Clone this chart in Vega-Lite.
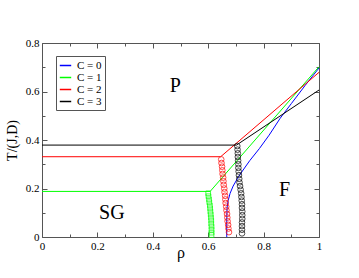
{
  "$schema": "https://vega.github.io/schema/vega-lite/v6.json",
  "width": 277,
  "height": 194,
  "autosize": {"type": "none"},
  "padding": {"left": 42, "top": 43, "right": 40, "bottom": 41},
  "background": "white",
  "config": {
    "view": {"stroke": null},
    "font": "Liberation Serif",
    "legend": {"labelFont": "Liberation Serif", "labelFontSize": 11, "labelColor": "black"}
  },
  "datasets": {
    "lines": [
      {"C": "C = 0", "i": 0, "rho": 0.667, "T": 0.0},
      {"C": "C = 0", "i": 1, "rho": 0.667, "T": 0.06},
      {"C": "C = 0", "i": 2, "rho": 0.668, "T": 0.12},
      {"C": "C = 0", "i": 3, "rho": 0.672, "T": 0.15},
      {"C": "C = 0", "i": 4, "rho": 0.679, "T": 0.18},
      {"C": "C = 0", "i": 5, "rho": 0.69, "T": 0.21},
      {"C": "C = 0", "i": 6, "rho": 0.705, "T": 0.24},
      {"C": "C = 0", "i": 7, "rho": 0.721, "T": 0.268},
      {"C": "C = 0", "i": 8, "rho": 0.75, "T": 0.315},
      {"C": "C = 0", "i": 9, "rho": 0.785, "T": 0.365},
      {"C": "C = 0", "i": 10, "rho": 0.82, "T": 0.42},
      {"C": "C = 0", "i": 11, "rho": 0.86, "T": 0.49},
      {"C": "C = 0", "i": 12, "rho": 0.9, "T": 0.55},
      {"C": "C = 0", "i": 13, "rho": 0.95, "T": 0.625},
      {"C": "C = 0", "i": 14, "rho": 1.0, "T": 0.697},
      {"C": "C = 1", "i": 0, "rho": 0.0, "T": 0.188},
      {"C": "C = 1", "i": 1, "rho": 0.607, "T": 0.188},
      {"C": "C = 1", "i": 2, "rho": 1.0, "T": 0.702},
      {"C": "C = 2", "i": 0, "rho": 0.0, "T": 0.331},
      {"C": "C = 2", "i": 1, "rho": 0.645, "T": 0.331},
      {"C": "C = 2", "i": 2, "rho": 1.0, "T": 0.679},
      {"C": "C = 3", "i": 0, "rho": 0.0, "T": 0.379},
      {"C": "C = 3", "i": 1, "rho": 0.702, "T": 0.379},
      {"C": "C = 3", "i": 2, "rho": 1.0, "T": 0.606}
    ],
    "squares": [
      {"C": "C = 1", "rho": 0.600, "T": 0.180},
      {"C": "C = 1", "rho": 0.601, "T": 0.168},
      {"C": "C = 1", "rho": 0.603, "T": 0.155},
      {"C": "C = 1", "rho": 0.604, "T": 0.143},
      {"C": "C = 1", "rho": 0.606, "T": 0.130},
      {"C": "C = 1", "rho": 0.607, "T": 0.118},
      {"C": "C = 1", "rho": 0.608, "T": 0.105},
      {"C": "C = 1", "rho": 0.609, "T": 0.093},
      {"C": "C = 1", "rho": 0.610, "T": 0.080},
      {"C": "C = 1", "rho": 0.611, "T": 0.068},
      {"C": "C = 1", "rho": 0.611, "T": 0.055},
      {"C": "C = 1", "rho": 0.612, "T": 0.043},
      {"C": "C = 1", "rho": 0.612, "T": 0.030},
      {"C": "C = 1", "rho": 0.612, "T": 0.018},
      {"C": "C = 1", "rho": 0.612, "T": 0.008}
    ],
    "circles": [
      {"C": "C = 2", "rho": 0.647, "T": 0.320},
      {"C": "C = 2", "rho": 0.648, "T": 0.305},
      {"C": "C = 2", "rho": 0.650, "T": 0.290},
      {"C": "C = 2", "rho": 0.651, "T": 0.275},
      {"C": "C = 2", "rho": 0.652, "T": 0.260},
      {"C": "C = 2", "rho": 0.654, "T": 0.245},
      {"C": "C = 2", "rho": 0.655, "T": 0.230},
      {"C": "C = 2", "rho": 0.656, "T": 0.215},
      {"C": "C = 2", "rho": 0.658, "T": 0.200},
      {"C": "C = 2", "rho": 0.659, "T": 0.185},
      {"C": "C = 2", "rho": 0.661, "T": 0.170},
      {"C": "C = 2", "rho": 0.662, "T": 0.155},
      {"C": "C = 2", "rho": 0.663, "T": 0.140},
      {"C": "C = 2", "rho": 0.665, "T": 0.125},
      {"C": "C = 2", "rho": 0.666, "T": 0.110},
      {"C": "C = 2", "rho": 0.668, "T": 0.095},
      {"C": "C = 2", "rho": 0.669, "T": 0.080},
      {"C": "C = 2", "rho": 0.670, "T": 0.065},
      {"C": "C = 2", "rho": 0.672, "T": 0.050},
      {"C": "C = 2", "rho": 0.673, "T": 0.035},
      {"C": "C = 2", "rho": 0.675, "T": 0.020},
      {"C": "C = 3", "rho": 0.705, "T": 0.375},
      {"C": "C = 3", "rho": 0.706, "T": 0.360},
      {"C": "C = 3", "rho": 0.707, "T": 0.345},
      {"C": "C = 3", "rho": 0.707, "T": 0.330},
      {"C": "C = 3", "rho": 0.708, "T": 0.315},
      {"C": "C = 3", "rho": 0.709, "T": 0.300},
      {"C": "C = 3", "rho": 0.709, "T": 0.285},
      {"C": "C = 3", "rho": 0.710, "T": 0.270},
      {"C": "C = 3", "rho": 0.711, "T": 0.255},
      {"C": "C = 3", "rho": 0.712, "T": 0.240},
      {"C": "C = 3", "rho": 0.713, "T": 0.225},
      {"C": "C = 3", "rho": 0.715, "T": 0.210},
      {"C": "C = 3", "rho": 0.717, "T": 0.195},
      {"C": "C = 3", "rho": 0.719, "T": 0.180},
      {"C": "C = 3", "rho": 0.720, "T": 0.165},
      {"C": "C = 3", "rho": 0.721, "T": 0.150},
      {"C": "C = 3", "rho": 0.722, "T": 0.135},
      {"C": "C = 3", "rho": 0.722, "T": 0.120},
      {"C": "C = 3", "rho": 0.723, "T": 0.105},
      {"C": "C = 3", "rho": 0.723, "T": 0.090},
      {"C": "C = 3", "rho": 0.723, "T": 0.075},
      {"C": "C = 3", "rho": 0.722, "T": 0.060},
      {"C": "C = 3", "rho": 0.722, "T": 0.045},
      {"C": "C = 3", "rho": 0.722, "T": 0.030},
      {"C": "C = 3", "rho": 0.722, "T": 0.015}
    ],
    "labels": [
      {"label": "P", "rho": 0.481, "T": 0.624},
      {"label": "SG", "rho": 0.252, "T": 0.101},
      {"label": "F", "rho": 0.876, "T": 0.194}
    ]
  },
  "resolve": {"axis": {"x": "independent", "y": "independent"}},
  "layer": [
    {
      "data": {"name": "lines"},
      "mark": {"type": "line", "strokeWidth": 1, "interpolate": "linear"},
      "encoding": {
        "x": {
          "field": "rho", "type": "quantitative",
          "scale": {"domain": [0, 1], "nice": false, "zero": false},
          "axis": {
            "orient": "bottom",
            "values": [0, 0.1, 0.2, 0.3, 0.4, 0.5, 0.6, 0.7, 0.8, 0.9, 1],
            "labelExpr": "round(datum.value*10)%2==0 ? toString(round(datum.value*10)/10) : ''",
            "tickSize": {"condition": {"test": "round(datum.value*10)%2==0", "value": -5}, "value": -3},
            "labelPadding": 8,
            "labelFlush": false,
            "labelOverlap": false,
            "labelFont": "Liberation Serif",
            "labelFontSize": 11,
            "labelColor": "black",
            "title": "ρ",
            "titleFont": "Liberation Serif",
            "titleFontSize": 16,
            "titleFontWeight": "normal",
            "titleColor": "black",
            "titleY": 20,
            "titleBaseline": "alphabetic",
            "grid": false,
            "domainColor": "#555",
            "tickColor": "#555"
          }
        },
        "y": {
          "field": "T", "type": "quantitative",
          "scale": {"domain": [0, 0.8], "nice": false, "zero": false},
          "axis": {
            "orient": "left",
            "values": [0, 0.1, 0.2, 0.3, 0.4, 0.5, 0.6, 0.7, 0.8],
            "labelExpr": "round(datum.value*10)%2==0 ? toString(round(datum.value*10)/10) : ''",
            "tickSize": {"condition": {"test": "round(datum.value*10)%2==0", "value": -5}, "value": -3},
            "labelPadding": 8,
            "labelFlush": false,
            "labelOverlap": false,
            "labelFont": "Liberation Serif",
            "labelFontSize": 11,
            "labelColor": "black",
            "title": "T/(J,D)",
            "titleFont": "Liberation Serif",
            "titleFontSize": 14,
            "titleFontWeight": "normal",
            "titleColor": "black",
            "titleX": -30,
            "titleBaseline": "middle",
            "grid": false,
            "domainColor": "#555",
            "tickColor": "#555"
          }
        },
        "order": {"field": "i", "type": "quantitative"},
        "color": {
          "field": "C", "type": "nominal",
          "scale": {"domain": ["C = 0", "C = 1", "C = 2", "C = 3"], "range": ["#0000ff", "#00ff00", "#ff0000", "#000000"]},
          "legend": {
            "orient": "none", "legendX": 14, "legendY": 13,
            "title": null,
            "symbolSize": 130,
            "labelFont": "Liberation Serif",
            "labelOffset": 5,
            "strokeColor": "#555",
            "padding": 3,
            "rowPadding": 0
          }
        }
      }
    },
    {
      "data": {"name": "squares"},
      "mark": {"type": "point", "shape": "square", "filled": false, "size": 22, "strokeWidth": 1},
      "encoding": {
        "x": {
          "field": "rho", "type": "quantitative",
          "scale": {"domain": [0, 1], "nice": false, "zero": false},
          "axis": {
            "orient": "top",
            "values": [0, 0.1, 0.2, 0.3, 0.4, 0.5, 0.6, 0.7, 0.8, 0.9, 1],
            "labels": false,
            "tickSize": {"condition": {"test": "round(datum.value*10)%2==0", "value": -5}, "value": -3},
            "title": null,
            "grid": false,
            "domainColor": "#555",
            "tickColor": "#555"
          }
        },
        "y": {
          "field": "T", "type": "quantitative",
          "scale": {"domain": [0, 0.8], "nice": false, "zero": false},
          "axis": {
            "orient": "right",
            "values": [0, 0.1, 0.2, 0.3, 0.4, 0.5, 0.6, 0.7, 0.8],
            "labels": false,
            "tickSize": {"condition": {"test": "round(datum.value*10)%2==0", "value": -5}, "value": -3},
            "title": null,
            "grid": false,
            "domainColor": "#555",
            "tickColor": "#555"
          }
        },
        "stroke": {
          "field": "C", "type": "nominal",
          "scale": {"domain": ["C = 0", "C = 1", "C = 2", "C = 3"], "range": ["#0000ff", "#00ff00", "#ff0000", "#000000"]},
          "legend": null
        }
      }
    },
    {
      "data": {"name": "circles"},
      "mark": {"type": "point", "shape": "circle", "filled": false, "size": 32, "strokeWidth": 1},
      "encoding": {
        "x": {"field": "rho", "type": "quantitative", "axis": null},
        "y": {"field": "T", "type": "quantitative", "axis": null},
        "stroke": {"field": "C", "type": "nominal", "legend": null}
      }
    },
    {
      "data": {"name": "labels"},
      "mark": {"type": "text", "font": "Liberation Serif", "fontSize": 20, "align": "center", "baseline": "middle", "color": "black"},
      "encoding": {
        "x": {"field": "rho", "type": "quantitative", "axis": null},
        "y": {"field": "T", "type": "quantitative", "axis": null},
        "text": {"field": "label"}
      }
    }
  ]
}
